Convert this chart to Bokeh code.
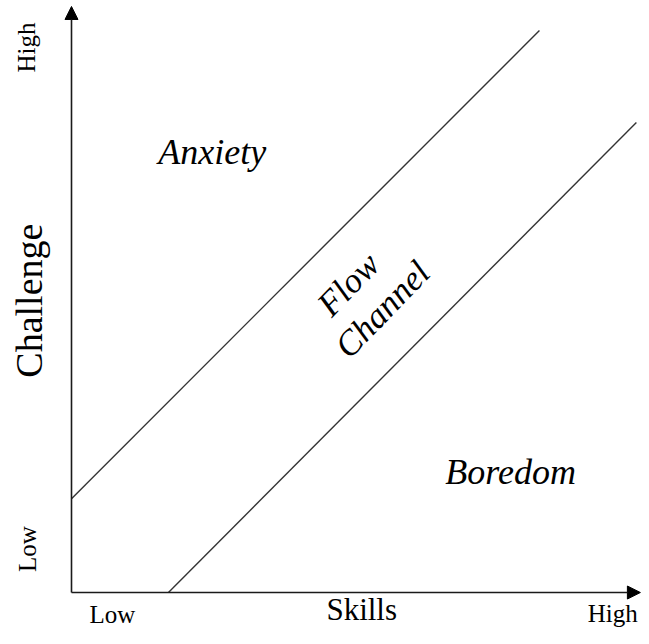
from bokeh.plotting import figure
from bokeh.models import Range1d, Arrow, NormalHead
from bokeh.core.properties import value
from bokeh.embed import file_html
from bokeh.resources import INLINE
import math

# ---- data (conceptual units: 0..100 on each axis) ----
upper_skill = [0.0, 81.1]
upper_challenge = [16.0, 95.9]
lower_skill = [16.8, 97.9]
lower_challenge = [0.0, 80.2]

region_labels = ["Anxiety", "Boredom"]
region_x = [24.4, 76.1]
region_y = [75.1, 20.6]

channel_labels = ["Flow", "Channel"]
channel_x = [48.0, 53.9]
channel_y = [52.6, 48.3]

x_tick_labels = ["Low", "High"]
x_tick_pos = [7.1, 93.8]
y_tick_labels = ["Low", "High"]
y_tick_pos = [7.4, 93.0]

x_title = "Skills"
y_title = "Challenge"

FONT = "Liberation Serif"

p = figure(width=641, height=628, output_backend="svg", toolbar_location=None,
           x_range=Range1d(-12.305, 98.79), y_range=Range1d(-6.14, 101.02),
           min_border=0, min_border_left=0, min_border_right=0,
           min_border_top=0, min_border_bottom=0)
p.axis.visible = False
p.grid.visible = False
p.outline_line_color = None
p.background_fill_color = "white"
p.border_fill_color = "white"

# axes with arrows
p.add_layout(Arrow(x_start=0, y_start=0, x_end=0, y_end=100,
                   line_width=1.6, line_color="#1a1a1a",
                   end=NormalHead(size=13, fill_color="black", line_color="black", line_width=1)))
p.add_layout(Arrow(x_start=0, y_start=0, x_end=98.6, y_end=0,
                   line_width=1.6, line_color="#1a1a1a",
                   end=NormalHead(size=13, fill_color="black", line_color="black", line_width=1)))

# flow channel boundaries
p.line(upper_skill, upper_challenge, line_color="#333333", line_width=1.4)
p.line(lower_skill, lower_challenge, line_color="#333333", line_width=1.4)

# region labels
p.text(x=region_x, y=region_y, text=region_labels, text_font=value(FONT),
       text_font_size="36px", text_font_style="italic", text_align="center",
       text_baseline="middle", text_color="black")

p.text(x=channel_x, y=channel_y, text=channel_labels, text_font=value(FONT),
       text_font_size="35px", text_font_style="italic", text_align="center",
       text_baseline="middle", text_color="black", angle=math.radians(46))

# tick-like labels
p.text(x=x_tick_pos, y=[-3.75, -3.5], text=x_tick_labels, text_font=value(FONT),
       text_font_size="25px", text_align="center", text_baseline="middle",
       text_color="black")
p.text(x=[-7.6, -7.8], y=y_tick_pos, text=y_tick_labels, text_font=value(FONT),
       text_font_size="25px", text_align="center", text_baseline="middle",
       text_color="black", angle=math.pi / 2)

# axis titles
p.text(x=[50.3], y=[-2.9], text=[x_title], text_font=value(FONT),
       text_font_size="31px", text_align="center", text_baseline="middle",
       text_color="black")
p.text(x=[-7.45], y=[49.8], text=[y_title], text_font=value(FONT),
       text_font_size="38px", text_align="center", text_baseline="middle",
       text_color="black", angle=math.pi / 2)

open("out.html", "w").write(file_html(p, INLINE))
